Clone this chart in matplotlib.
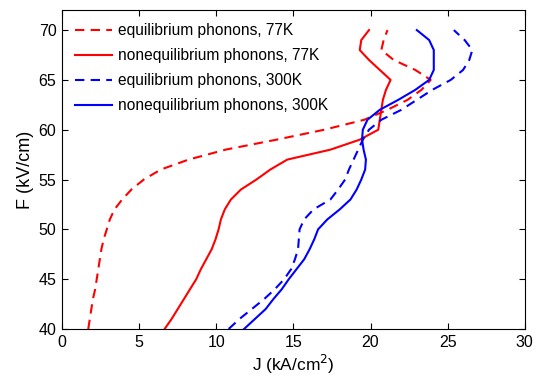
import matplotlib
matplotlib.use('Agg')
import matplotlib.pyplot as plt
import numpy as np

plt.rcParams['font.family'] = ['Liberation Sans', 'DejaVu Sans']

# field values (kV/cm), shared by all curves
F = np.arange(40, 71)

# current density J (kA/cm^2)
j_eq_77 = [1.7, 1.8, 1.9, 2.0, 2.15, 2.25, 2.35, 2.45, 2.55, 2.7,
           2.9, 3.1, 3.4, 3.9, 4.5, 5.3, 6.4, 8.2, 10.6, 13.9,
           17.0, 19.6, 21.1, 22.4, 23.3, 23.9, 22.9, 21.5, 20.7, 20.85, 21.1]
j_neq_77 = [6.65, 7.1, 7.5, 7.9, 8.3, 8.7, 9.0, 9.35, 9.7, 9.95,
            10.15, 10.3, 10.55, 10.95, 11.6, 12.6, 13.5, 14.6, 17.4, 19.3,
            20.5, 20.6, 20.7, 20.8, 21.0, 21.3, 20.6, 19.9, 19.3, 19.4, 19.9]
j_eq_300 = [10.8, 11.5, 12.3, 13.1, 13.8, 14.4, 14.85, 15.1, 15.3, 15.35,
            15.4, 15.7, 16.3, 17.4, 17.9, 18.35, 18.6, 18.9, 19.2, 19.5,
            19.9, 20.7, 22.0, 23.0, 24.0, 25.2, 26.0, 26.4, 26.6, 26.1, 25.4]
j_neq_300 = [11.8, 12.5, 13.2, 13.7, 14.25, 14.7, 15.2, 15.7, 16.05, 16.35,
             16.6, 17.2, 18.0, 18.7, 19.1, 19.4, 19.65, 19.7, 19.55, 19.45,
             19.5, 19.8, 20.6, 21.8, 22.9, 23.8, 24.1, 24.1, 24.1, 23.8, 23.0]

fig = plt.figure(figsize=(5.47, 3.76), dpi=100)
ax = fig.add_axes([0.1134, 0.125, 0.846, 0.848])

dash = (4.5, 3)
ax.plot(j_eq_77, F, color='r', ls='--', dashes=dash, lw=1.5, label='equilibrium phonons, 77K')
ax.plot(j_neq_77, F, color='r', ls='-', lw=1.5, label='nonequilibrium phonons, 77K')
ax.plot(j_eq_300, F, color='b', ls='--', dashes=dash, lw=1.5, label='equilibrium phonons, 300K')
ax.plot(j_neq_300, F, color='b', ls='-', lw=1.5, label='nonequilibrium phonons, 300K')

ax.set_xlim(0, 30)
ax.set_ylim(40, 72)
ax.set_xticks(np.arange(0, 31, 5))
ax.set_yticks(np.arange(40, 71, 5))
ax.tick_params(direction='in', top=True, right=True, labelsize=11.5, length=4, pad=4)
ax.set_xlabel('J (kA/cm$^2$)', fontsize=12.5, labelpad=2.5)
ax.set_ylabel('F (kV/cm)', fontsize=13, labelpad=3)

ax.legend(loc='upper left', frameon=False, fontsize=11.2, handlelength=2.4,
          handletextpad=0.39, borderaxespad=0.44, labelspacing=0.64)

fig.savefig('out.png', dpi=100)
